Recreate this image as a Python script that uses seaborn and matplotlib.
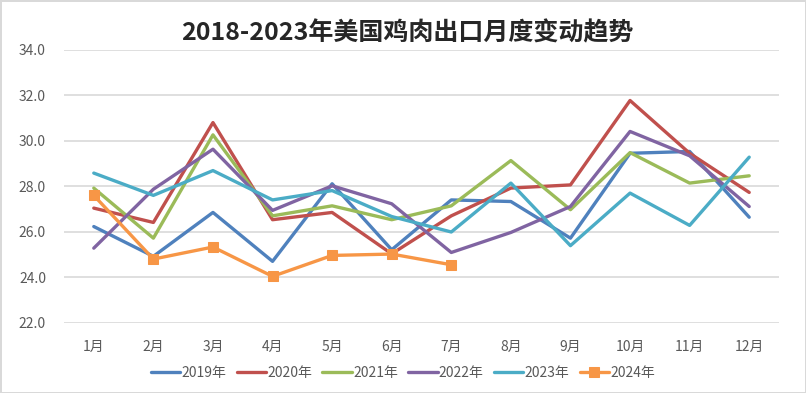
import numpy as np
import pandas as pd
import matplotlib
matplotlib.use("Agg")
import matplotlib.pyplot as plt
import seaborn as sns

months = ["1月", "2月", "3月", "4月", "5月", "6月", "7月", "8月", "9月", "10月", "11月", "12月"]

y2019 = [26.24, 24.93, 26.86, 24.71, 28.12, 25.22, 27.41, 27.34, 25.73, 29.46, 29.54, 26.65]
y2020 = [27.05, 26.42, 30.81, 26.54, 26.86, 25.04, 26.71, 27.93, 28.07, 31.78, 29.46, 27.74]
y2021 = [27.93, 25.73, 30.27, 26.71, 27.15, 26.54, 27.15, 29.14, 26.98, 29.49, 28.15, 28.47]
y2022 = [25.29, 27.88, 29.64, 26.95, 28.03, 27.24, 25.10, 25.98, 27.12, 30.42, 29.35, 27.12]
y2023 = [28.59, 27.61, 28.70, 27.41, 27.82, 26.68, 26.00, 28.15, 25.40, 27.71, 26.29, 29.29]
y2024 = [27.61, 24.81, 25.34, 24.05, 24.97, 25.03, 24.56]

series = {
    "2019年": y2019,
    "2020年": y2020,
    "2021年": y2021,
    "2022年": y2022,
    "2023年": y2023,
    "2024年": y2024,
}
colors = ["#4F81BD", "#C0504D", "#9BBB59", "#8064A2", "#4BACC6", "#F79646"]

sns.set_style("white")
plt.rcParams["font.family"] = ["Noto Sans CJK SC", "DejaVu Sans"]

fig = plt.figure(figsize=(8.06, 3.93), dpi=100, edgecolor="#D9D9D9", linewidth=2)
ax = fig.add_axes([64 / 806, 1 - 323 / 393, 715 / 806, 273 / 393])

for (name, vals), c in zip(series.items(), colors):
    df = pd.DataFrame({"month": months[:len(vals)], "value": vals})
    if name == "2024年":
        sns.lineplot(data=df, x="month", y="value", ax=ax, color=c, lw=2.4,
                     marker="s", markersize=7, markeredgecolor=c, label=name)
    else:
        sns.lineplot(data=df, x="month", y="value", ax=ax, color=c, lw=2.4, label=name)

ax.set_xlim(-0.5, 11.5)
ax.set_ylim(22, 34)
ax.set_yticks(np.arange(22, 34.1, 2))
ax.set_yticklabels([f"{v:.1f}" for v in np.arange(22, 34.1, 2)])
ax.yaxis.grid(True, color="#D9D9D9", lw=1.2)
ax.set_axisbelow(True)
ax.set_xlabel("")
ax.set_ylabel("")
sns.despine(ax=ax, left=True, bottom=True)
ax.tick_params(axis="both", length=0, labelsize=10, labelcolor="#595959")
ax.tick_params(axis="x", pad=12)
ax.tick_params(axis="y", pad=13)

ax.legend(loc="center", bbox_to_anchor=(0.5, 1 - 373 / 393), bbox_transform=fig.transFigure,
          ncol=6, frameon=False, fontsize=10, handlelength=2.1, columnspacing=0.75,
          handletextpad=0.1, labelcolor="#595959")

fig.suptitle("2018-2023年美国鸡肉出口月度变动趋势", x=0.505, y=1 - 33 / 393, va="center",
             fontsize=18, fontweight="bold")

fig.savefig("out.png", dpi=100)
